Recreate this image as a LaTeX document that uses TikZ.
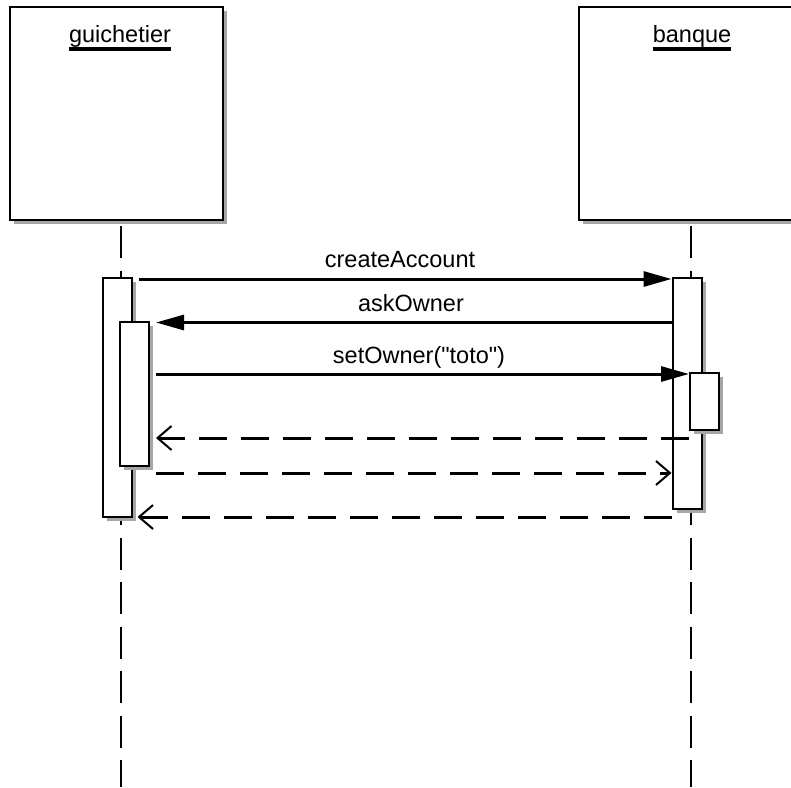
\documentclass[tikz,border=0pt]{standalone}
\usepackage{fontspec}
\setmainfont{Liberation Sans}[Ligatures=TeXOff]
\usetikzlibrary{arrows.meta, shadows}
\tikzstyle{obj} = [rectangle, draw, line width=2pt, fill=white, minimum width=213pt, minimum height=213pt, drop shadow={shadow xshift=4pt, shadow yshift=-4pt, fill=gray!70, opacity=1}]
\tikzstyle{act} = [rectangle, draw, line width=2pt, fill=white, inner sep=0pt, minimum width=29pt, drop shadow={shadow xshift=4pt, shadow yshift=-4pt, fill=gray!70, opacity=1}]
\tikzstyle{life} = [draw, line width=2pt, dash pattern=on 32pt off 12.5pt]
\tikzstyle{msg} = [draw, line width=3pt, -{Triangle[length=28pt, width=15pt]}]
\tikzstyle{ret} = [draw, line width=3pt, dash pattern=on 28pt off 14pt, -{Straight Barb[length=14pt, width=24pt, line width=2pt]}]
\tikzstyle{lbl} = [font=\fontsize{23.5}{26}\selectfont, inner sep=0pt, anchor=base]

\begin{document}
\begin{tikzpicture}[x=1pt, y=-1pt]
			\clip (0,0) rectangle (791,787);
			\fill [white] (0,0) rectangle (791,787);
			
			% objects
			\node [obj] (gh) at (116.5, 113.5) {};
			\node [obj] (bh) at (685.5, 113.5) {};
			\node [lbl] (gt) at (120, 42) {guichetier};
			\node [lbl] (bt) at (692, 42) {banque};
			\draw [line width=3.5pt] ([yshift=-7pt]gt.base west) -- ([yshift=-7pt]gt.base east);
			\draw [line width=3.5pt] ([yshift=-7pt]bt.base west) -- ([yshift=-7pt]bt.base east);
			
			% lifelines
			\coordinate (gl) at (121, 787);
			\coordinate (bl) at (691, 787);
			\path [life] (gl |- gh.south) ++(0,5) -- (gl);
			\path [life] (bl |- bh.south) ++(0,5) -- (bl);
			
			% activations
			\node [act, minimum height=239pt] (ga1) at (117, 397.5) {};
			\node [act, minimum height=231pt] (ba1) at (687, 393.5) {};
			\node [act, minimum height=144pt] (ga2) at (134.5, 394) {};
			\node [act, minimum height=57pt] (ba2) at (704.5, 401.5) {};
			
			% messages
			\coordinate (r1) at (0, 279);
			\coordinate (r2) at (0, 322.5);
			\coordinate (r3) at (0, 374);
			\coordinate (r4) at (0, 438);
			\coordinate (r5) at (0, 473);
			\coordinate (r6) at (0, 517);
			
			\path [msg, shorten <=6pt] (ga1.east |- r1) -- (ba1.west |- r1);
			\path [msg, shorten >=6pt] (ba1.west |- r2) -- (ga2.east |- r2);
			\path [msg, shorten <=6pt] (ga2.east |- r3) -- (ba2.west |- r3);
			\path [ret, shorten >=6pt] (ba2.west |- r4) -- (ga2.east |- r4);
			\path [ret, shorten <=6pt] (ga2.east |- r5) -- (ba1.west |- r5);
			\path [ret, shorten >=5pt] (ba1.west |- r6) -- (ga1.east |- r6);
			
			\node [lbl] (m1) at (400, 267) {createAccount};
			\node [lbl] (m2) at (411, 311.5) {askOwner};
			\node [lbl] (m3) at (419, 363) {setOwner("toto")};
		\end{tikzpicture}
\end{document}
